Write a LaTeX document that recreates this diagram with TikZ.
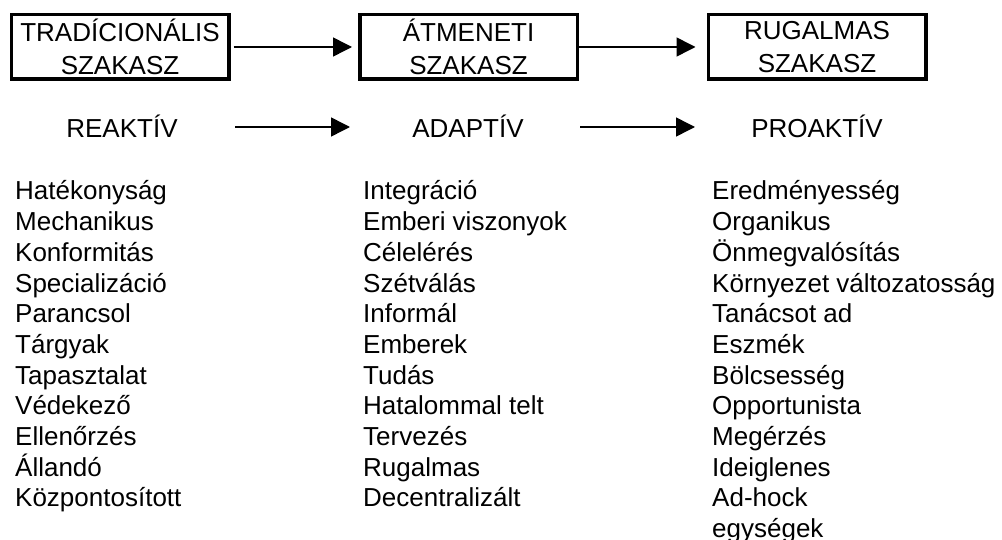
\documentclass[tikz,border=0pt]{standalone}
\usepackage{fontspec}
\setmainfont{Liberation Sans}
\usetikzlibrary{arrows.meta}
\begin{document}
\begin{tikzpicture}[x=1pt,y=-1pt,
  stagebox/.style={draw=black,line width=3.5pt,minimum width=217.5pt,minimum height=64.5pt,
    inner sep=0pt,align=center,font=\fontsize{26}{33}\selectfont},
  lbl/.style={anchor=base,inner sep=0pt,font=\fontsize{26}{31}\selectfont},
  item/.style={anchor=base west,inner sep=0pt,font=\fontsize{26}{31}\selectfont},
  flow/.style={line width=1.5pt,-{Triangle[length=19pt,width=19pt]}}]
\useasboundingbox (0,0) rectangle (1002,540);
% stage boxes
\node[stagebox] (b1) at (120,47) {TRADÍCIONÁLIS\\SZAKASZ};
\node[stagebox] (b2) at (468.5,47) {ÁTMENETI\\SZAKASZ};
\node[stagebox] (b3) at (817,47) {RUGALMAS\\SZAKASZ};
\draw[flow,shorten <=3pt,shorten >=6pt] (b1.east) -- (b2.west);
\draw[flow,shorten <=0pt,shorten >=11pt] (b2.east) -- (b3.west);
% row 2
\node[lbl] (r) at (122,137.7) {REAKTÍV};
\node[lbl] (a) at (468,137.7) {ADAPTÍV};
\node[lbl] (p) at (817,137.7) {PROAKTÍV};
\coordinate (s1) at (235,127);
\coordinate (e1) at (350,127);
\coordinate (s2) at (580,127);
\coordinate (e2) at (695,127);
\draw[flow] (s1) -- (e1);
\draw[flow] (s2) -- (e2);
% lists
\foreach \t [count=\i from 0] in {Hatékonyság,Mechanikus,Konformitás,Specializáció,Parancsol,Tárgyak,Tapasztalat,Védekező,Ellenőrzés,Állandó,Központosított}
  \node[item] (l\i) at (15,200+\i*30.67) {\t};
\foreach \t [count=\i from 0] in {Integráció,Emberi viszonyok,Célelérés,Szétválás,Informál,Emberek,Tudás,Hatalommal telt,Tervezés,Rugalmas,Decentralizált}
  \node[item] (m\i) at (363,200+\i*30.67) {\t};
\foreach \t [count=\i from 0] in {Eredményesség,Organikus,Önmegvalósítás,Környezet változatosság,Tanácsot ad,Eszmék,Bölcsesség,Opportunista,Megérzés,Ideiglenes,Ad-hock,egységek}
  \node[item] (q\i) at (712,200+\i*30.67) {\t};
\end{tikzpicture}
\end{document}
